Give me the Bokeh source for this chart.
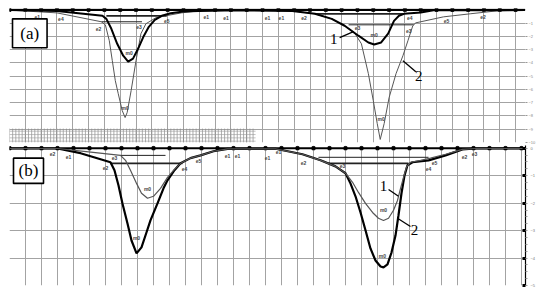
from bokeh.plotting import figure
from bokeh.models import LinearAxis, FixedTicker, Range1d
from bokeh.layouts import column
from bokeh.embed import file_html
from bokeh.resources import INLINE
from bokeh.core.properties import value
import numpy as np

# ---------------- data: panel (a) ----------------
a_T1 = [0, 30, 58.75, 61.25, 64.4, 68.1, 71.9, 75, 78.1, 81.9, 85, 88.1, 91.9, 96.25, 101.9, 110, 119.4, 144.4,
        178.75, 193.1, 203.75, 211.9, 220.6, 226.9, 230.6, 235, 239.4, 243.1, 246.25, 249.4, 260, 268.1, 326]
a_Q1 = [-0.02, -0.08, -0.45, -0.68, -1.43, -2.56, -3.46, -3.91, -3.68, -2.78, -1.95, -1.28, -0.75, -0.45, -0.26, -0.13, -0.08, -0.04,
        -0.08, -0.30, -0.68, -1.20, -1.95, -2.46, -2.61, -2.46, -1.80, -0.83, -0.45, -0.30, -0.20, -0.04, -0.02]
a_T2 = [0, 30, 58.1, 60.6, 63.1, 65, 66.9, 68.75, 71.25, 73.1, 74.4, 76.9, 80, 83.1, 86.25, 92.5, 98.75, 108.75, 119.4, 144.4,
        178.75, 193.1, 203.75, 211.9, 218.1, 222.5, 226.9, 230, 232.5, 234.4, 236.9, 240, 244.4, 248.75, 251.9, 255, 256.9,
        274.4, 291.25, 308.1, 324.4]
a_Q2 = [-0.02, -0.23, -0.90, -1.13, -2.33, -3.83, -5.34, -6.32, -7.59, -8.12, -7.74, -6.09, -3.83, -1.80, -1.05, -0.60, -0.45, -0.23, -0.08, -0.04,
        -0.08, -0.30, -0.68, -1.20, -1.73, -2.56, -4.81, -6.84, -8.57, -9.77, -8.57, -6.62, -4.81, -3.46, -2.33, -1.20, -0.98,
        -0.53, -0.30, -0.08, -0.01]
# integration baselines (x start, x end, level)
a_base_x0 = [61.25, 58.1, 193.1, 214.4]
a_base_x1 = [99.4, 83.75, 249.4, 255.6]
a_base_y = [-0.45, -0.90, -0.30, -1.13]
a_base_w = [1.8, 1.0, 1.8, 1.0]
# small point labels
a_pt_x = [17.5, 32.5, 56.25, 81.9, 99.4, 75.6, 73.1, 124.4, 136.9, 163.1, 171.9, 186.25, 220, 230.6, 253.1, 252.5, 276.25, 299.4, 235]
a_pt_y = [-0.53, -0.68, -1.43, -1.28, -0.83, -3.23, -7.37, -0.53, -0.60, -0.60, -0.60, -0.60, -1.35, -1.88, -0.60, -1.58, -0.83, -0.53, -8.20]
a_pt_t = ["e1", "e4", "e2", "e3", "e5", "m0", "m0", "e1", "e1", "e1", "e1", "e2", "e3", "m0", "e4", "e3", "e5", "e2", "m0"]
# curve numbers and leaders
a_num_x = [205, 258.75]
a_num_y = [-2.18, -4.96]
a_num_t = ["1", "2"]
a_lead_x0 = [208.75, 248.75]
a_lead_y0 = [-2.10, -3.83]
a_lead_x1 = [217.5, 256.9]
a_lead_y1 = [-1.65, -4.66]
a_grid_x = list(range(0, 330, 10))
a_grid_y = [-10, -9, -8, -7, -6, -5, -4, -3, -2, -1, 0]

# ---------------- data: panel (b) ----------------
b_T1 = [0, 30, 49.4, 69.4, 72.5, 75.6, 79.4, 82.5, 86.25, 90, 94.4, 98.75, 103.1, 106.9, 113.1, 119.4, 127.5, 136.25,
        166.25, 183.1, 194.4, 203.75, 210, 214.4, 218.1, 222.5, 226.9, 230.6, 233.75, 236.9, 240, 242.5, 244.4, 246.25,
        248.1, 250.6, 256.9, 263.1, 272.5, 283.1, 291.25, 322.5]
b_Q1 = [-0.01, -0.01, -0.13, -0.26, -0.44, -0.80, -1.28, -1.64, -1.82, -1.75, -1.46, -1.06, -0.77, -0.55, -0.36, -0.26, -0.11, -0.02,
        -0.02, -0.22, -0.44, -0.66, -0.91, -1.24, -1.61, -2.01, -2.34, -2.55, -2.63, -2.55, -2.26, -1.90, -1.46, -1.06,
        -0.69, -0.51, -0.44, -0.36, -0.22, -0.04, -0.01, -0.01]
b_T2 = [0, 30, 44.4, 56.9, 63.1, 65.6, 68.1, 70.6, 73.75, 76.25, 79.4, 82.5, 85.6, 88.1, 92.5, 96.25, 98.75, 103.1, 106.9,
        113.1, 119.4, 127.5, 136.25, 166.25, 183.1, 194.4, 203.75, 210, 213.1, 216.25, 219.4, 222.5, 225.6, 228.75, 231.9,
        233.75, 236.25, 238.75, 241.25, 243.1, 245, 246.9, 248.75, 251.9, 261.9, 272.5, 283.1, 291.25, 322.5]
b_Q2 = [-0.01, -0.01, -0.18, -0.40, -0.51, -0.80, -1.35, -2.01, -2.74, -3.36, -3.83, -3.61, -3.07, -2.63, -2.01, -1.46, -1.17, -0.80, -0.55,
        -0.36, -0.26, -0.11, -0.02, -0.02, -0.22, -0.44, -0.66, -0.91, -1.28, -1.75, -2.34, -2.99, -3.65, -4.09, -4.31,
        -4.34, -4.23, -3.80, -3.18, -2.45, -1.64, -0.99, -0.62, -0.51, -0.44, -0.26, -0.04, -0.01, -0.01]
b_base_x0 = [63.1, 69.4, 199.4, 193.1]
b_base_x1 = [108.1, 97.5, 249.4, 261.9]
b_base_y = [-0.55, -0.26, -0.55, -0.33]
b_base_w = [1.8, 1.0, 1.8, 1.0]
b_pt_x = [26.9, 36.9, 65.6, 60, 86.25, 109.4, 118.1, 79.4, 136.25, 142.5, 161.25, 168.1, 183.75, 208.1, 233.75, 233.1, 261.9, 265.6, 284.4, 290.6]
b_pt_y = [-0.22, -0.33, -0.36, -0.73, -1.50, -0.77, -0.47, -3.28, -0.29, -0.29, -0.36, -0.15, -0.55, -0.66, -2.26, -3.91, -0.77, -0.55, -0.33, -0.22]
b_pt_t = ["e2", "e1", "e3", "e2", "m0", "e4", "e5", "m0", "e1", "e1", "e1", "e1", "e2", "e3", "m0", "m0", "e4", "e5", "e2", "e3"]
b_num_x = [233.75, 253.1]
b_num_y = [-1.39, -2.96]
b_num_t = ["1", "2"]
b_lead_x0 = [236.9, 242.5]
b_lead_y0 = [-1.50, -2.55]
b_lead_x1 = [243.1, 250.6]
b_lead_y1 = [-1.75, -2.85]
b_grid_x = list(range(0, 330, 10))
b_grid_y = [-5, -4, -3, -2, -1, 0]

GRID = "#a3a3a3"
SERIF = "Liberation Serif"


def base_fig(w, h, xr, yr, mb):
    p = figure(width=w, height=h, x_range=xr, y_range=yr,
               output_backend="svg", toolbar_location=None,
               x_axis_location=None, y_axis_location=None,
               min_border_left=mb[0], min_border_right=mb[1],
               min_border_top=mb[2], min_border_bottom=mb[3])
    p.outline_line_color = None
    p.background_fill_color = "white"
    p.border_fill_color = "white"
    return p


def decorate(p, gx, gy, T1, Q1, w1, c1, T2, Q2, w2, c2, bx0, bx1, by, bw,
             px, py, pt, nx, ny, nt, lx0, ly0, lx1, ly1, box, boxtext):
    p.xgrid.ticker = FixedTicker(ticks=gx)
    p.ygrid.ticker = FixedTicker(ticks=gy)
    p.xgrid.grid_line_color = GRID
    p.ygrid.grid_line_color = GRID
    p.xgrid.grid_line_width = 1
    p.ygrid.grid_line_width = 1
    # top reference line with tick squares
    p.line(x=[gx[0], gx[-1] + 6], y=[0, 0], line_color="black", line_width=2.2)
    p.scatter(x=gx, y=[0] * len(gx), marker="square", size=3, color="black")
    # baselines
    p.segment(x0=bx0, y0=by, x1=bx1, y1=by, line_color="#222222", line_width=bw)
    # curves
    p.line(x=T2, y=Q2, line_color=c2, line_width=w2)
    p.line(x=T1, y=Q1, line_color=c1, line_width=w1)
    # small point labels
    p.text(x=px, y=py, text=pt, text_font=value("Liberation Sans"), text_font_size="5px",
           text_color="#444444", text_align="center", text_baseline="middle", text_font_style="bold")
    # curve number labels
    p.segment(x0=lx0, y0=ly0, x1=lx1, y1=ly1, line_color="black", line_width=1.3)
    p.text(x=nx, y=ny, text=nt, text_font=value(SERIF), text_font_size="15px",
           text_color="black", text_align="center", text_baseline="middle")
    # panel tag box
    p.quad(left=[box[0]], right=[box[1]], bottom=[box[2]], top=[box[3]],
           fill_color="white", line_color="black", line_width=1.6)
    p.text(x=[(box[0] + box[1]) / 2], y=[(box[2] + box[3]) / 2], text=[boxtext],
           text_font=value(SERIF), text_font_size="17px", text_color="black",
           text_align="center", text_baseline="middle")


# ---------------- panel (a) ----------------
pa = base_fig(542, 145, Range1d(0, 326.25), Range1d(-10, 0.1), (9, 11, 8, 3))
# dense graph-paper strip at the bottom left
sx = list(np.arange(0, 156, 2.0))
pa.segment(x0=sx, y0=[-8.95] * len(sx), x1=sx, y1=[-10] * len(sx), line_color="#8a8a8a", line_width=0.7)
sy = [-9.15, -9.4, -9.65, -9.9]
pa.segment(x0=[0] * len(sy), y0=sy, x1=[155.6] * len(sy), y1=sy, line_color="#9a9a9a", line_width=0.6)
decorate(pa, a_grid_x, a_grid_y, a_T1, a_Q1, 2.0, "black", a_T2, a_Q2, 1.0, "#555555",
         a_base_x0, a_base_x1, a_base_y, a_base_w, a_pt_x, a_pt_y, a_pt_t,
         a_num_x, a_num_y, a_num_t, a_lead_x0, a_lead_y0, a_lead_x1, a_lead_y1,
         (1.9, 23.75, -2.86, -0.68), "(a)")
ax_a = LinearAxis(ticker=FixedTicker(ticks=a_grid_y[:-1]), major_label_text_font_size="4px",
                  major_label_text_color="#888888", axis_line_color=None,
                  major_tick_line_color="#999999", major_tick_out=2, major_tick_in=0,
                  minor_tick_line_color=None, major_label_standoff=1)
pa.add_layout(ax_a, "right")

# ---------------- panel (b) ----------------
pb = base_fig(542, 145, Range1d(0, 322.5), Range1d(-5, 0.1), (9, 17, 0, 5))
decorate(pb, b_grid_x, b_grid_y, b_T1, b_Q1, 1.2, "#555555", b_T2, b_Q2, 2.2, "black",
         b_base_x0, b_base_x1, b_base_y, b_base_w, b_pt_x, b_pt_y, b_pt_t,
         b_num_x, b_num_y, b_num_t, b_lead_x0, b_lead_y0, b_lead_x1, b_lead_y1,
         (2.5, 21.25, -1.28, -0.36), "(b)")
ax_b = LinearAxis(ticker=FixedTicker(ticks=b_grid_y, minor_ticks=list(np.arange(-5, 0.01, 0.25))),
                  major_label_text_font_size="4px", major_label_text_color="#777777",
                  axis_line_color="black", axis_line_width=1.2,
                  major_tick_line_color="black", major_tick_line_width=3, major_tick_in=3, major_tick_out=0,
                  minor_tick_line_color="#999999", minor_tick_in=0, minor_tick_out=2,
                  major_label_standoff=3)
pb.add_layout(ax_b, "right")

layout = column(pa, pb, spacing=0)
open("out.html", "w").write(file_html(layout, INLINE))
